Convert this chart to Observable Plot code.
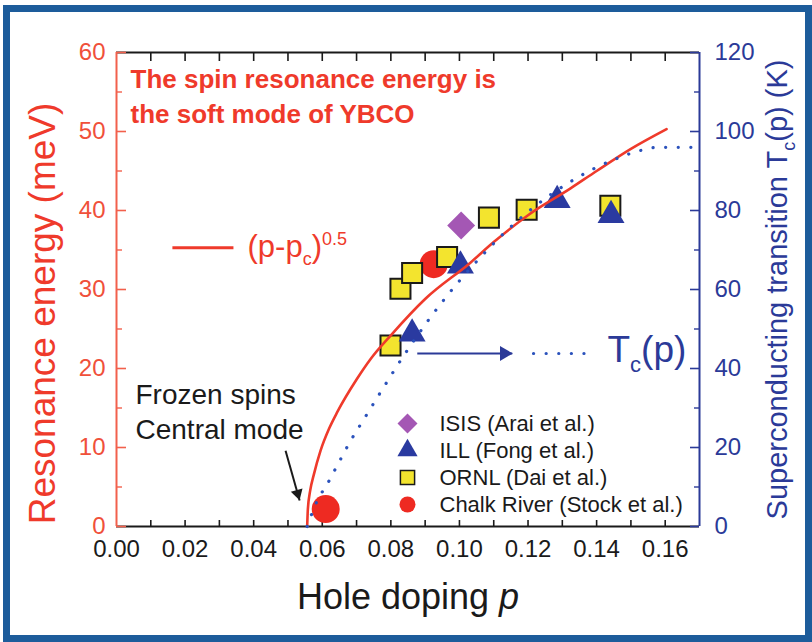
<!DOCTYPE html>
<html>
<head>
<meta charset="utf-8">
<script src="https://cdn.jsdelivr.net/npm/d3@7"></script>
<script src="https://cdn.jsdelivr.net/npm/@observablehq/plot@0.6"></script>
<style>
html, body { margin: 0; padding: 0; background: #fff; }
#chart { width: 812px; height: 642px; }
</style>
</head>
<body>
<div id="chart"></div>
<script>
// ---------- data ----------
const isisP  = [0.1005];
const isisE  = [38.1];
const illP   = [0.0862, 0.1003, 0.1285, 0.1442];
const illE   = [24.4, 33.0, 41.3, 39.4];
const ornlP  = [0.0799, 0.0828, 0.0862, 0.0964, 0.1086, 0.1196, 0.1440];
const ornlE  = [22.9, 30.1, 32.1, 34.1, 39.1, 40.1, 40.6];
const chalkP = [0.0610, 0.0925];
const chalkE = [2.2, 33.2];

// (p - pc)^0.5 curve (meV)
const fitP = [0.0556, 0.0558, 0.0565, 0.0575, 0.0595, 0.0620, 0.0644, 0.0700, 0.0741, 0.0800, 0.0900, 0.1032, 0.1100, 0.1200, 0.1324, 0.1400, 0.1500, 0.1604];
const fitE = [0, 2.2, 4.6, 6.5, 9.6, 12.4, 14.5, 18.6, 21.2, 24.2, 28.8, 33.4, 36.0, 39.4, 42.8, 45.0, 47.8, 50.3];

// Tc(p) dotted curve (K, right axis)
const tcP = [0.0556, 0.058, 0.062, 0.0644, 0.0678, 0.0726, 0.077, 0.0838, 0.0916, 0.1001, 0.1066, 0.1139, 0.1212, 0.130, 0.139, 0.146, 0.152, 0.158, 0.168];
const tcK = [0, 5.5, 11.6, 15.5, 21, 27.8, 34, 43.3, 53, 62.3, 68.6, 75, 80.5, 86, 90.5, 93.2, 95, 96, 96];

// axes
const xDomain = [0, 0.17];
const eDomain = [0, 60];
const kDomain = [0, 120];
const xTicks  = [0, 0.02, 0.04, 0.06, 0.08, 0.10, 0.12, 0.14, 0.16];
const xAllTicks = [0.01, 0.02, 0.03, 0.04, 0.05, 0.06, 0.07, 0.08, 0.09, 0.10, 0.11, 0.12, 0.13, 0.14, 0.15, 0.16];
const eTicks  = [0, 10, 20, 30, 40, 50, 60];
const eMinor  = [5, 15, 25, 35, 45, 55];
const kTicks  = [0, 20, 40, 60, 80, 100, 120];
const kMinor  = [10, 30, 50, 70, 90, 110];

// legend
const legendLabels  = ["ISIS (Arai et al.)", "ILL (Fong et al.)", "ORNL (Dai et al.)", "Chalk River (Stock et al.)"];

// annotation anchors (data coordinates)
const fitSampleP = [0.0163, 0.0341]; const fitSampleE = 35.3;
const tcArrowP   = [0.0877, 0.1154]; const tcArrowE = 21.9;
const tcSampleP  = [0.1216, 0.1374];
const frozenArrowP = [0.0493, 0.0534]; const frozenArrowE = [9.6, 3.3];

// ---------- styling ----------
const RED = "#ef3a2b", RED_LABEL = "#f0503a", AXIS_RED = "#f2604c", BLUE = "#2b3a98", DOT_BLUE = "#2b52bc", INK = "#1a1a1a";
const YELLOW = "#f3e42e", NAVY = "#2a3aa0", PURPLE = "#a457b4", CIRCLE_RED = "#ee2a22";
const W = 812, H = 642, ML = 116, MR = 113, MT = 52, MB = 116;
const PW = W - ML - MR, PH = H - MT - MB;
const kToE = k => k * (eDomain[1] / kDomain[1]);

const pts = (P, V) => P.map((p, i) => ({p, v: V[i]}));
const isis = pts(isisP, isisE), ill = pts(illP, illE), ornl = pts(ornlP, ornlE), chalk = pts(chalkP, chalkE);
const fit = pts(fitP, fitE);
const tc = pts(tcP, tcK);

const legendSpec = [
  {symbol: "diamond2", fill: PURPLE, stroke: "none", r: 9},
  {symbol: "triangle", fill: NAVY, stroke: "none", r: 7.5},
  {symbol: "square", fill: YELLOW, stroke: INK, r: 8},
  {symbol: "circle", fill: CIRCLE_RED, stroke: "none", r: 8}
];
const legendMarks = legendLabels.flatMap((label, i) => [
  Plot.dot([label], {frameAnchor: "top-left", dx: 291, dy: 371 + i * 27,
    symbol: legendSpec[i].symbol, fill: legendSpec[i].fill, stroke: legendSpec[i].stroke, strokeWidth: 1.5, r: legendSpec[i].r}),
  Plot.text([label], {frameAnchor: "top-left", dx: 323, dy: 371 + i * 27, text: d => d,
    textAnchor: "start", lineAnchor: "middle", fontSize: 22, fill: INK})
]);

const plot = Plot.plot({
  width: W, height: H,
  marginLeft: ML, marginRight: MR, marginTop: MT, marginBottom: MB,
  style: {fontFamily: "'Liberation Sans', Arial, sans-serif", background: "#fff", overflow: "visible"},
  x: {domain: xDomain},
  y: {domain: eDomain},
  marks: [
    // axis frame lines
    Plot.ruleY([eDomain[0]], {stroke: INK, strokeWidth: 2}),
    Plot.ruleY([eDomain[1]], {stroke: INK, strokeWidth: 2}),
    Plot.ruleX([xDomain[1]], {stroke: BLUE, strokeWidth: 2}),
    Plot.ruleX([xDomain[0]], {stroke: AXIS_RED, strokeWidth: 2}),
    // inward ticks
    Plot.tickX(xAllTicks, {x: d => d, insetTop: PH - 6, stroke: INK, strokeWidth: 1.6}),
    Plot.tickX(xAllTicks, {x: d => d, insetBottom: PH - 9, stroke: INK, strokeWidth: 1.6}),
    Plot.tickY(eTicks, {y: d => d, insetRight: PW - 10, stroke: AXIS_RED, strokeWidth: 1.6}),
    Plot.tickY(eMinor, {y: d => d, insetRight: PW - 6, stroke: AXIS_RED, strokeWidth: 1.4}),
    Plot.tickY(kTicks, {y: d => kToE(d), insetLeft: PW - 9, stroke: BLUE, strokeWidth: 1.6}),
    Plot.tickY(kMinor, {y: d => kToE(d), insetLeft: PW - 5, stroke: BLUE, strokeWidth: 1.4}),
    // tick labels
    Plot.axisX(xTicks, {anchor: "bottom", tickSize: 0, tickPadding: 13, tickFormat: d3.format(".2f"), fontSize: 24, color: INK, label: null}),
    Plot.axisY(eTicks, {anchor: "left", tickSize: 0, tickPadding: 11, fontSize: 24, color: RED_LABEL, label: null}),
    Plot.axisY(kTicks.map(kToE), {anchor: "right", tickSize: 0, tickPadding: 15, fontSize: 24, color: BLUE, label: null,
      tickFormat: (d, i) => kTicks[i]}),
    // data markers
    Plot.dot(chalk, {x: "p", y: "v", symbol: "circle", r: 14, fill: CIRCLE_RED}),
    Plot.dot(ornl, {x: "p", y: "v", symbol: "square", r: 11.3, fill: YELLOW, stroke: INK, strokeWidth: 2}),
    Plot.dot(isis, {x: "p", y: "v", symbol: "diamond2", r: 12.6, fill: PURPLE}),
    Plot.dot(ill, {x: "p", y: "v", symbol: "triangle", r: 10, fill: NAVY}),
    // curves
    Plot.line(fit, {x: "p", y: "v", stroke: RED, strokeWidth: 2.6, curve: "monotone-x"}),
    Plot.line(tc, {x: "p", y: d => kToE(d.v), stroke: DOT_BLUE, strokeWidth: 3.2, strokeDasharray: "0.1,12.5", strokeLinecap: "round", curve: "monotone-x"}),
    // annotations
    Plot.link([0], {x1: fitSampleP[0], x2: fitSampleP[1], y1: fitSampleE, y2: fitSampleE, stroke: RED, strokeWidth: 3}),
    Plot.link([0], {x1: tcArrowP[0], x2: tcArrowP[1], y1: tcArrowE, y2: tcArrowE, stroke: BLUE, strokeWidth: 2, insetRight: 12}),
    Plot.dot([0], {x: tcArrowP[1], y: tcArrowE, symbol: "triangle", rotate: 90, r: 5.5, fill: BLUE, dx: -8}),
    Plot.link([0], {x1: tcSampleP[0], x2: tcSampleP[1], y1: tcArrowE, y2: tcArrowE, stroke: DOT_BLUE, strokeWidth: 3.2, strokeDasharray: "0.1,12.5", strokeLinecap: "round"}),
    Plot.link([0], {x1: frozenArrowP[0], x2: frozenArrowP[1], y1: frozenArrowE[0], y2: frozenArrowE[1], stroke: INK, strokeWidth: 2}),
    Plot.dot([0], {x: frozenArrowP[1], y: frozenArrowE[1], symbol: "triangle", rotate: 164, r: 4.5, fill: INK, dx: -2, dy: -7}),
    Plot.text(["The spin resonance energy is\nthe soft mode of YBCO"], {frameAnchor: "top-left", dx: 14, dy: 42, text: d => d,
      textAnchor: "start", lineAnchor: "middle", fontSize: 26, fontWeight: "bold", fill: RED, lineHeight: 1.35}),
    Plot.text(["(p-p_c)^0.5"], {frameAnchor: "top-left", dx: 131, dy: 195, text: d => d, textAnchor: "start", lineAnchor: "middle", fontSize: 31, fill: RED}),
    Plot.text(["Frozen spins\nCentral mode"], {frameAnchor: "top-left", dx: 19, dy: 358, text: d => d, textAnchor: "start", lineAnchor: "middle",
      fontSize: 28, fill: INK, lineHeight: 1.25}),
    Plot.text(["T_c(p)"], {frameAnchor: "top-left", dx: 491, dy: 298, text: d => d, textAnchor: "start", lineAnchor: "middle", fontSize: 37, fill: BLUE}),
    ...legendMarks,
    // axis titles
    Plot.text(["Resonance energy (meV)"], {frameAnchor: "left", dx: -73, dy: 24, rotate: -90, text: d => d,
      textAnchor: "middle", lineAnchor: "middle", fontSize: 37, fill: RED}),
    Plot.text(["Superconducting transition T_c(p) (K)"], {frameAnchor: "right", dx: 78, dy: 0, rotate: -90, text: d => d,
      textAnchor: "middle", lineAnchor: "middle", fontSize: 29, fill: BLUE}),
    Plot.text(["Hole doping p"], {frameAnchor: "bottom", dx: 0, dy: 71, text: d => d, textAnchor: "middle", lineAnchor: "middle", fontSize: 36, fill: INK})
  ]
});

// rich text: subscripts, superscripts, italics
function rich(svg, match, parts) {
  d3.select(svg).selectAll("text").filter(function() { return this.textContent === match; }).each(function() {
    const t = d3.select(this);
    t.text("");
    for (const part of parts) {
      const s = t.append("tspan").text(part.text);
      if (part.dy) s.attr("dy", part.dy);
      if (part.size) s.attr("font-size", part.size);
      if (part.italic) s.attr("font-style", "italic");
    }
  });
}
rich(plot, "(p-p_c)^0.5", [{text: "(p-p"}, {text: "c", dy: 8, size: 18}, {text: ")", dy: -8}, {text: "0.5", dy: -12, size: 18}]);
rich(plot, "T_c(p)", [{text: "T"}, {text: "c", dy: 10, size: 22}, {text: "(p)", dy: -10}]);
rich(plot, "Superconducting transition T_c(p) (K)", [{text: "Superconducting transition T"}, {text: "c", dy: 8, size: 18}, {text: "(p) (K)", dy: -8}]);
rich(plot, "Hole doping p", [{text: "Hole doping "}, {text: "p", italic: true}]);

// outer blue frame
d3.select(plot).append("rect")
  .attr("x", 6.5).attr("y", 8.5).attr("width", W - 10).attr("height", H - 12)
  .attr("fill", "none").attr("stroke", "#1d5c9b").attr("stroke-width", 7);

document.getElementById("chart").appendChild(plot);
</script>
</body>
</html>
